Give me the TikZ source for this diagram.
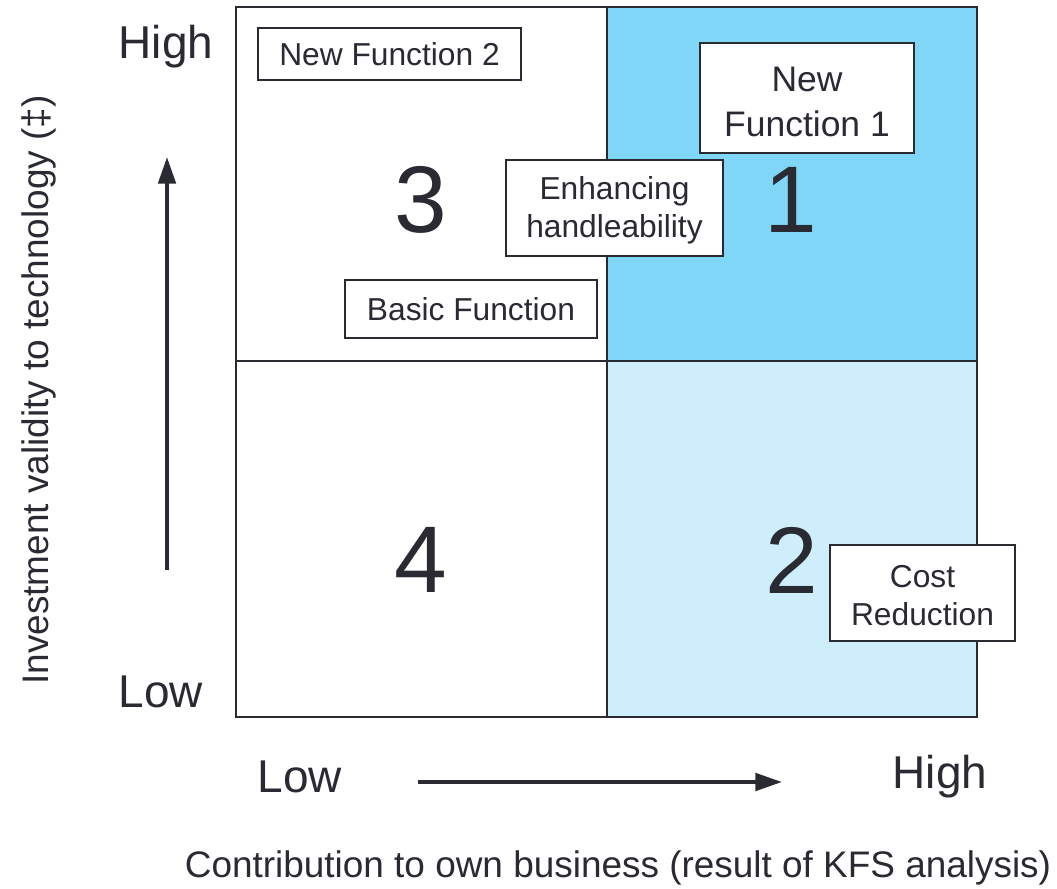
\documentclass[tikz,border=0pt]{standalone}
\usepackage{fontspec}
\setmainfont{Liberation Sans}
\usetikzlibrary{arrows.meta}

\definecolor{ink}{HTML}{2A2A33}
\definecolor{hiblue}{HTML}{80D6F7}
\definecolor{loblue}{HTML}{CDEEFA}

\tikzset{
    tag/.style={draw=ink, line width=1.1pt, fill=white, text=ink, align=center, inner sep=0pt,
        font=\fontsize{23.8}{28.5}\selectfont},
    quadnum/.style={text=ink, font=\fontsize{71}{71}\selectfont},
    axislabel/.style={text=ink, font=\fontsize{34.5}{34.5}\selectfont},
    axistitle/.style={text=ink, font=\fontsize{27.7}{27.7}\selectfont},
    axisarrow/.style={draw=ink, line width=3pt, -{Triangle[length=20pt,width=13pt]}}
}

\begin{document}
\begin{tikzpicture}[x=0.75pt, y=-0.75pt]
        \useasboundingbox (0,0) rectangle (1057,889);

        % Right column shading
        \fill[hiblue] (607,7) rectangle (977,361);
        \fill[loblue] (607,361) rectangle (977,717);

        % Grid
        \draw[ink, line width=1.6pt] (236,7) rectangle (977,717);
        \draw[ink, line width=1.6pt] (607,7) -- (607,717);
        \draw[ink, line width=1.6pt] (236,361) -- (977,361);

        % Quadrant numbers
        \node[quadnum] (q3) at (421,200) {3};
        \node[quadnum] (q1) at (791,200) {1};
        \node[quadnum] (q4) at (421,560) {4};
        \node[quadnum] (q2) at (792,560) {2};

        % Function boxes
        \node[tag, minimum width=197.25pt, minimum height=39pt] (newtwo) at (389.5,54) {New Function 2};
        \node[tag, minimum width=160.5pt, minimum height=82.5pt,
              font=\fontsize{26.6}{33.75}\selectfont] (newone) at (807,98) {\strut New\\Function 1};
        \node[tag, minimum width=162.75pt, minimum height=72pt] (handle) at (614.5,208) {\strut Enhancing\\handleability};
        \node[tag, minimum width=189pt, minimum height=43.5pt] (basic) at (471,309) {Basic Function};
        \node[tag, minimum width=138.75pt, minimum height=72pt] (cost) at (922.5,593) {\strut Cost\\Reduction};

        % Vertical axis
        \node[axislabel] (yhigh) at (166,47) {High};
        \node[axislabel] (ylow) at (161,692) {Low};
        \coordinate (ybot) at (167,570);
        \coordinate (ytop) at (167,157);
        \draw[axisarrow] (ybot) -- (ytop);
        \node[axistitle, rotate=90] (ytitle) at (39,390) {Investment validity to technology (‡)};

        % Horizontal axis
        \node[axislabel] (xlow) at (300,777) {Low};
        \node[axislabel] (xhigh) at (940,777) {High};
        \coordinate (xleft) at (418,782);
        \coordinate (xright) at (782,782);
        \draw[axisarrow] (xleft) -- (xright);
        \node[axistitle] (xtitle) at (618,868) {Contribution to own business (result of KFS analysis)};

    \end{tikzpicture}
\end{document}
